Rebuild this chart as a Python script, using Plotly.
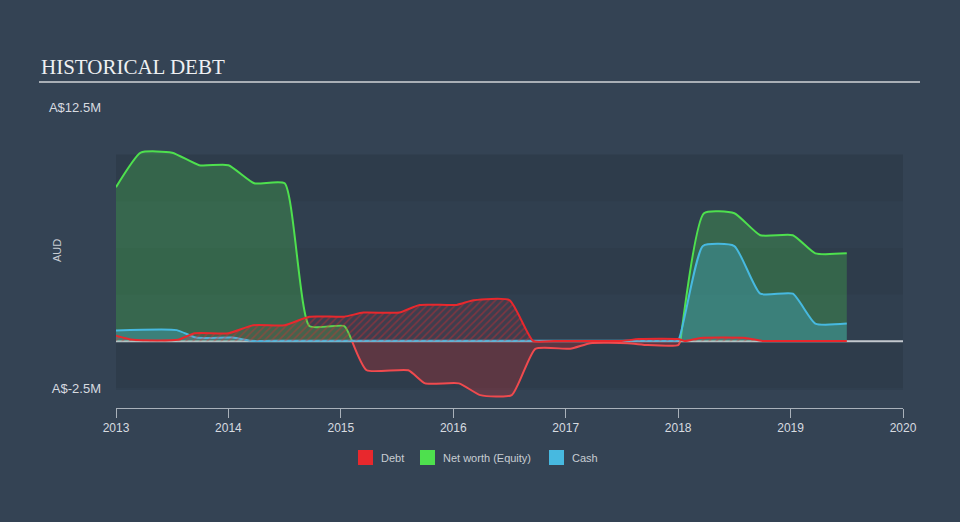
import plotly.graph_objects as go

# ---- data (A$ millions, decimal years) ----
equity_pos1_x = [2013.0, 2013.22, 2013.5, 2013.74, 2014.0, 2014.23, 2014.5, 2014.72, 2015.03, 2015.1]
equity_pos1_y = [8.25, 10.1, 10.1, 9.43, 9.43, 8.46, 8.46, 0.82, 0.82, 0.0]

equity_neg_x = [2015.1, 2015.23, 2015.6, 2015.75, 2016.05, 2016.24, 2016.52, 2016.73, 2017.04, 2017.22, 2017.55, 2017.73, 2018.0, 2018.02]
equity_neg_y = [0.0, -1.55, -1.55, -2.25, -2.25, -2.88, -2.88, -0.4, -0.4, -0.1, -0.1, -0.2, -0.2, 0.0]

equity_pos2_x = [2018.02, 2018.23, 2018.5, 2018.73, 2019.02, 2019.22, 2019.5]
equity_pos2_y = [0.0, 6.86, 6.86, 5.68, 5.68, 4.71, 4.71]

debt_x = [2013.0, 2013.15, 2013.55, 2013.7, 2014.0, 2014.22, 2014.5, 2014.72, 2015.03, 2015.2,
          2015.52, 2015.7, 2016.03, 2016.18, 2016.5, 2016.71, 2016.9, 2017.4, 2017.5, 2017.65,
          2018.0, 2018.06, 2018.2, 2018.6, 2018.75, 2019.0, 2019.5]
debt_y = [0.3, 0.08, 0.08, 0.43, 0.43, 0.86, 0.86, 1.32, 1.32, 1.54,
          1.54, 1.95, 1.95, 2.2, 2.2, 0.02, 0.02, 0.02, 0.02, 0.12,
          0.12, 0.02, 0.18, 0.18, 0.02, 0.02, 0.02]

cash_x = [2013.0, 2013.54, 2013.71, 2014.04, 2014.2, 2014.5, 2017.6, 2017.93, 2018.0, 2018.22,
          2018.5, 2018.73, 2019.02, 2019.22, 2019.5]
cash_y = [0.58, 0.6, 0.2, 0.2, 0.03, 0.03, 0.03, 0.03, 0.05, 5.1,
          5.1, 2.55, 2.55, 0.95, 0.95]

year_ticks = [2013, 2014, 2015, 2016, 2017, 2018, 2019, 2020]
y_ticks = [-2.5, 12.5]
y_tick_text = ["A$-2.5M", "A$12.5M"]

legend_names = ["Debt", "Net worth (Equity)", "Cash"]

RED = "#e8282d"
GREEN = "#4ee04e"
BLUE = "#47b9e0"
legend_colors = [RED, GREEN, BLUE]
BG = "#344354"

# pixel -> paper helpers (plot area: x 116..903, y 100..408)
def px(x):
    return (x - 116) / 787.0

def py(y):
    return (408 - y) / 308.0

fig = go.Figure()

spl = dict(shape="spline", smoothing=0.5, width=2)

fig.add_trace(go.Scatter(x=equity_pos1_x, y=equity_pos1_y, mode="lines", fill="tozeroy",
                         fillcolor="rgba(77,223,77,0.25)", line=dict(color=GREEN, **spl),
                         showlegend=False, hoverinfo="skip"))
fig.add_trace(go.Scatter(x=equity_pos2_x, y=equity_pos2_y, mode="lines", fill="tozeroy",
                         fillcolor="rgba(77,223,77,0.25)", line=dict(color=GREEN, **spl),
                         showlegend=False, hoverinfo="skip"))
fig.add_trace(go.Scatter(x=equity_neg_x, y=equity_neg_y, mode="lines", fill="tozeroy",
                         fillcolor="rgba(232,40,45,0.25)", line=dict(color="#f04a4e", **spl),
                         showlegend=False, hoverinfo="skip"))
fig.add_trace(go.Scatter(x=cash_x, y=cash_y, mode="lines", fill="tozeroy",
                         fillcolor="rgba(71,185,224,0.3)", line=dict(color=BLUE, **spl),
                         showlegend=False, hoverinfo="skip"))
fig.add_trace(go.Scatter(x=debt_x, y=debt_y, mode="lines", fill="tozeroy",
                         fillcolor="rgba(0,0,0,0)",
                         fillpattern=dict(shape="/", fgcolor="rgba(232,40,45,0.75)",
                                          bgcolor="rgba(232,40,45,0.08)", size=5, solidity=0.3),
                         line=dict(color=RED, **spl),
                         showlegend=False, hoverinfo="skip"))

shapes = [
    dict(type="rect", xref="x", yref="y", x0=2013, x1=2020, y0=-2.6, y1=10,
         fillcolor="rgba(0,0,0,0.06)", line=dict(width=0), layer="below"),
]
for y0 in [-2.5, 2.5, 7.5]:
    shapes.append(dict(type="rect", xref="x", yref="y", x0=2013, x1=2020, y0=y0, y1=y0 + 2.5,
                       fillcolor="rgba(0,0,0,0.04)", line=dict(width=0), layer="below"))
shapes.append(dict(type="line", xref="x", yref="y", x0=2013, x1=2020, y0=0, y1=0,
                   line=dict(color="#c3c8ce", width=2), layer="below"))
# title underline
shapes.append(dict(type="line", xref="paper", yref="paper", x0=px(39), x1=px(920), y0=py(82), y1=py(82),
                   line=dict(color="#a9afb6", width=2)))

annotations = [
    dict(text="HISTORICAL DEBT", xref="paper", yref="paper", x=px(39), y=py(67),
         xanchor="left", yanchor="middle", showarrow=False,
         font=dict(family="Liberation Serif, Times New Roman, serif", size=21, color="#eef0f2")),
    dict(text="AUD", xref="paper", yref="paper", x=px(57), y=py(250), textangle=-90,
         xanchor="center", yanchor="middle", showarrow=False,
         font=dict(size=11, color="#c8cdd3")),
]

# manual legend
legend_sq_left = [358, 420, 549]
for nm, col, x0 in zip(legend_names, legend_colors, legend_sq_left):
    shapes.append(dict(type="rect", xref="paper", yref="paper", x0=px(x0), x1=px(x0 + 15),
                       y0=py(465), y1=py(450), fillcolor=col, line=dict(width=0)))
    annotations.append(dict(text=nm, xref="paper", yref="paper", x=px(x0 + 21), y=py(457.5),
                            xanchor="left", yanchor="middle", showarrow=False,
                            font=dict(size=11, color="#c8cdd3")))

fig.update_layout(
    width=960, height=522,
    margin=dict(l=116, r=57, t=100, b=114),
    paper_bgcolor=BG, plot_bgcolor=BG,
    font=dict(family="Liberation Sans, Arial, sans-serif", color="#d5d9de", size=12),
    shapes=shapes,
    annotations=annotations,
    showlegend=False,
    xaxis=dict(range=[2013, 2020], tickvals=year_ticks, ticktext=[str(t) for t in year_ticks],
               showgrid=False, zeroline=False, showline=True, linecolor="#a9b1ba", linewidth=1,
               ticks="outside", ticklen=9, tickcolor="#a9b1ba", tickwidth=1,
               tickfont=dict(size=12, color="#d7dbe0")),
    yaxis=dict(range=[-3.57, 12.92], tickvals=y_ticks, ticktext=y_tick_text,
               showgrid=False, zeroline=False, showline=False, ticks="",
               ticklabelstandoff=14, tickfont=dict(size=13, color="#d7dbe0")),
)

fig.write_html("out.html")
